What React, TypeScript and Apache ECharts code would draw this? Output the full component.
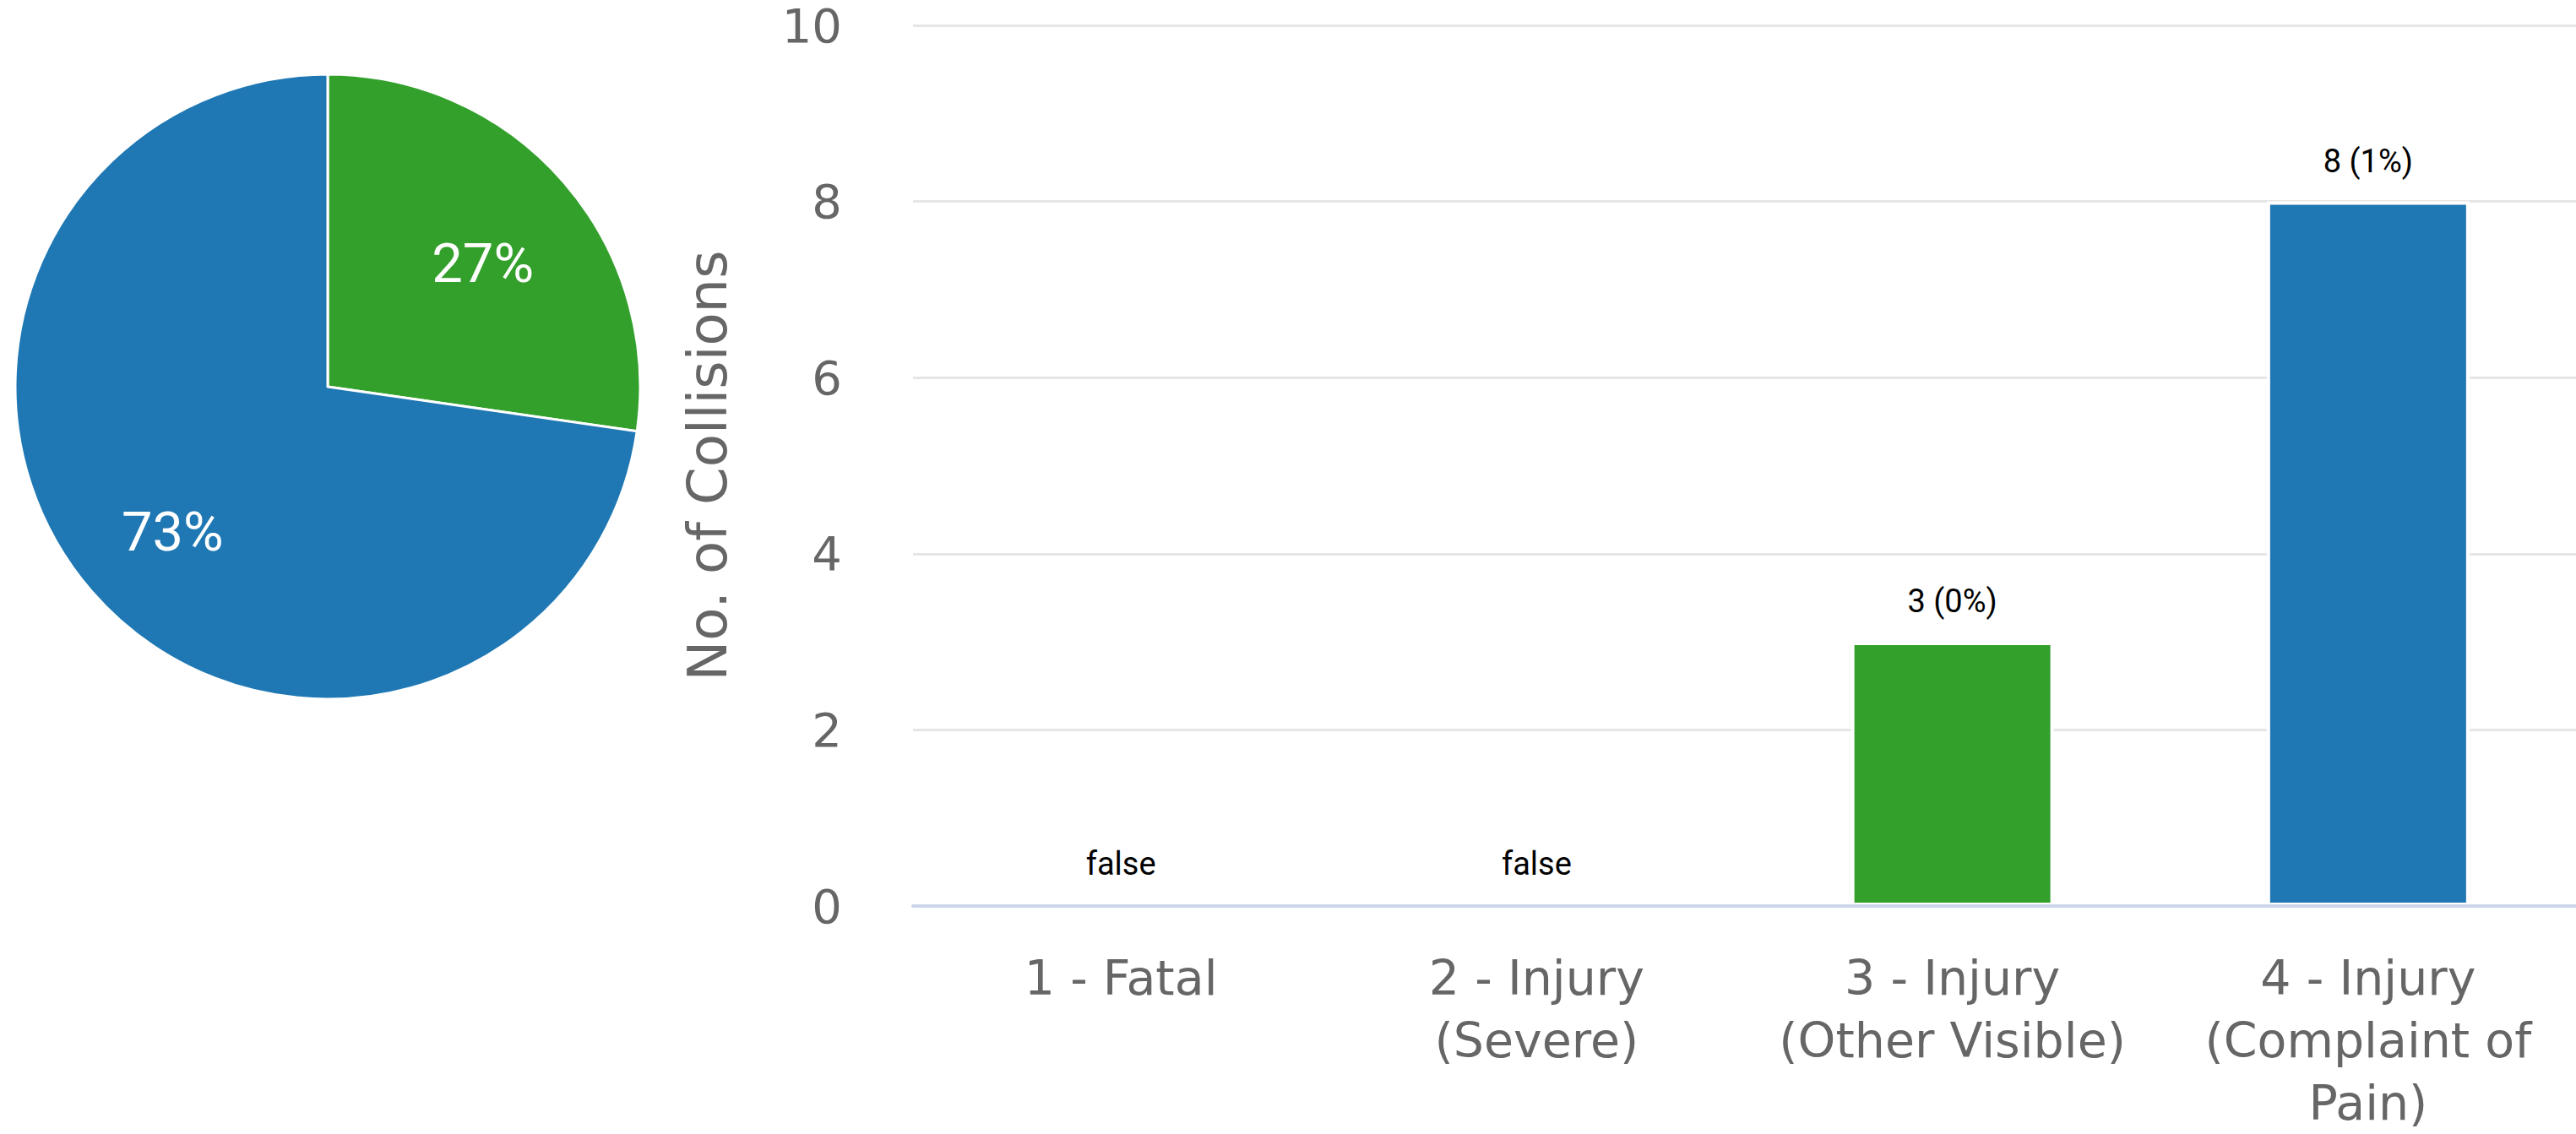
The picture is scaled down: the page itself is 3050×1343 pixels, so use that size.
import React, { useEffect, useRef } from "react";
import * as echarts from "echarts";

// ---- data ----
const categories = [
  "1 - Fatal",
  "2 - Injury (Severe)",
  "3 - Injury (Other Visible)",
  "4 - Injury (Complaint of Pain)",
];
const categoryTickLabels = [
  "1 - Fatal",
  "2 - Injury\n(Severe)",
  "3 - Injury\n(Other Visible)",
  "4 - Injury\n(Complaint of\nPain)",
];
const collisionCounts = [0, 0, 3, 8];
const shareOfAllCollisionsPct = [0, 0, 0, 1];
const categoryColors = ["#e31a1c", "#ff7f00", "#33a02c", "#1f78b4"];
const yMin = 0;
const yMax = 10;
const yInterval = 2;
const yAxisTitle = "No. of Collisions";

export default function App() {
  const ref = useRef<HTMLDivElement>(null);

  useEffect(() => {
    if (!ref.current) return;
    const chart = echarts.init(ref.current, undefined, { renderer: "svg" });

    const pieData = categories
      .map((name, i) => ({
        name,
        value: collisionCounts[i],
        itemStyle: { color: categoryColors[i] },
      }))
      .filter((d) => d.value > 0);

    const pieLabelData = pieData.map((d) => ({
      name: d.name,
      value: d.value,
      itemStyle: { color: "rgba(0,0,0,0)" },
    }));

    const barData = categories.map((name, i) => ({
      value: collisionCounts[i],
      itemStyle: { color: categoryColors[i] },
    }));

    chart.setOption({
      animation: false,
      textStyle: { fontFamily: "DejaVu Sans" },
      grid: { left: 1081, right: 0, top: 30, bottom: 257, containLabel: false },
      xAxis: {
        type: "category",
        data: categories,
        z: 5,
        axisTick: { show: false },
        axisLine: { show: true, lineStyle: { color: "#ccd6eb", width: 4 } },
        axisLabel: {
          interval: 0,
          margin: 48,
          color: "#666666",
          fontSize: 57,
          lineHeight: 74,
          fontFamily: "DejaVu Sans",
          formatter: (_v: string, idx: number) => categoryTickLabels[idx],
        },
      },
      yAxis: {
        type: "value",
        min: yMin,
        max: yMax,
        interval: yInterval,
        axisLine: { show: false },
        axisTick: { show: false },
        splitLine: { lineStyle: { color: "#e6e6e6", width: 3 } },
        axisLabel: {
          margin: 84,
          color: "#666666",
          fontSize: 56,
          fontFamily: "DejaVu Sans",
        },
        name: yAxisTitle,
        nameLocation: "middle",
        nameGap: 211,
        nameTextStyle: {
          color: "#666666",
          fontSize: 64,
          fontFamily: "DejaVu Sans",
        },
      },
      series: [
        {
          type: "bar",
          data: barData,
          barWidth: 240,
          itemStyle: { borderColor: "#ffffff", borderWidth: 4 },
          label: {
            show: true,
            position: "top",
            distance: 29,
            color: "#000000",
            fontFamily: "Roboto",
            fontSize: 38,
            formatter: (p: any) =>
              p.value === 0
                ? "false"
                : `${p.value} (${shareOfAllCollisionsPct[p.dataIndex]}%)`,
          },
        },
        {
          type: "pie",
          center: [388, 458],
          radius: [0, 370],
          startAngle: 90,
          clockwise: true,
          silent: true,
          data: pieData,
          itemStyle: { borderColor: "#ffffff", borderWidth: 3 },
          label: { show: false },
          labelLine: { show: false },
        },
        {
          type: "pie",
          center: [388, 471],
          radius: [0, 480],
          startAngle: 90,
          clockwise: true,
          silent: true,
          data: pieLabelData,
          itemStyle: { color: "rgba(0,0,0,0)", borderWidth: 0 },
          label: {
            show: true,
            position: "inside",
            color: "#ffffff",
            fontFamily: "Roboto",
            fontSize: 65,
            formatter: (p: any) => `${Math.round(p.percent)}%`,
          },
          labelLine: { show: false },
        },
      ],
    });

    return () => chart.dispose();
  }, []);

  return (
    <div
      ref={ref}
      style={{ position: "absolute", left: 0, top: 0, width: 3050, height: 1343 }}
    />
  );
}
